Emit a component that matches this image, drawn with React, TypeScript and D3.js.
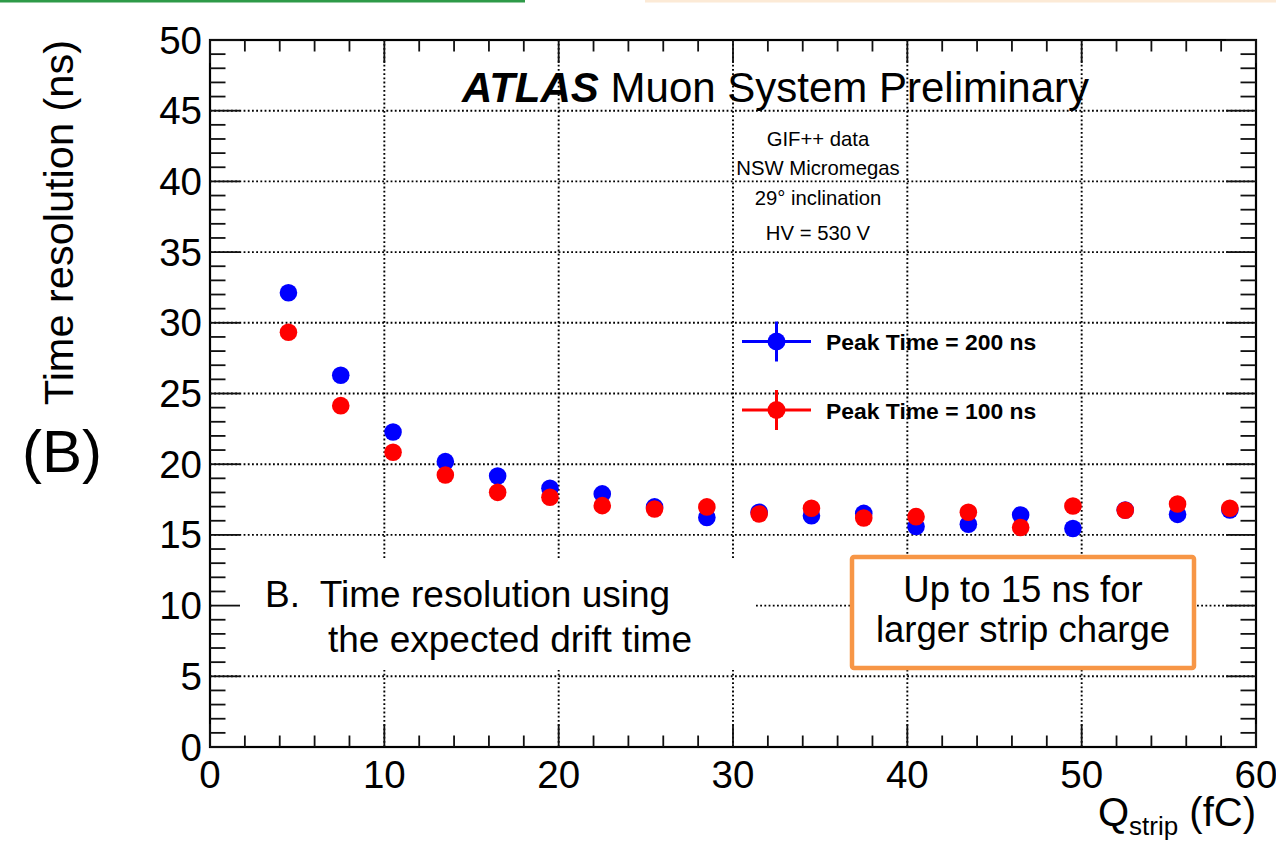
import React from "react";
import * as d3 from "d3";

const W = 1276;
const H = 841;

// Data: Q_strip bin centres (fC) and time resolution (ns)
const qStrip = [4.5, 7.5, 10.5, 13.5, 16.5, 19.5, 22.5, 25.5, 28.5, 31.5, 34.5, 37.5, 40.5, 43.5, 46.5, 49.5, 52.5, 55.5, 58.5];
const peak200 = [32.13, 26.29, 22.28, 20.18, 19.17, 18.3, 17.9, 16.98, 16.23, 16.6, 16.36, 16.52, 15.6, 15.75, 16.41, 15.45, 16.76, 16.45, 16.76];
const peak100 = [29.33, 24.14, 20.84, 19.24, 18.01, 17.66, 17.07, 16.83, 16.98, 16.48, 16.88, 16.19, 16.29, 16.6, 15.52, 17.04, 16.74, 17.18, 16.88];

const xMajor = [0, 10, 20, 30, 40, 50, 60];
const yMajor = [0, 5, 10, 15, 20, 25, 30, 35, 40, 45, 50];
const infoLines = ["GIF++ data", "NSW Micromegas", "29° inclination", "HV = 530 V"];
const legendItems = [
  { label: "Peak Time = 200 ns", color: "#0000FF" },
  { label: "Peak Time = 100 ns", color: "#FF0000" },
];

const FONT = "'Liberation Sans', Arial, Helvetica, sans-serif";

export default function App() {
  const x = d3.scaleLinear().domain([0, 60]).range([210, 1256]);
  const y = d3.scaleLinear().domain([0, 50]).range([747, 40]);

  const xMinor = d3.range(0, 60.001, 2).filter((v) => Math.abs(v % 10) > 1e-6);
  const yMinor = d3.range(0, 50.001, 1).filter((v) => Math.abs(v % 5) > 1e-6);

  const [x0, x1] = x.range();
  const [y0, y1] = y.range();

  const gridStyle = { stroke: "#000", strokeWidth: 1.9, strokeDasharray: "1.8,2.4" };
  const tickStyle = { stroke: "#111", strokeWidth: 1.8 };

  const infoY = [146, 175, 205, 240];
  const legY = [341.5, 410];

  return (
    <svg
      width={W}
      height={H}
      viewBox={`0 0 ${W} ${H}`}
      style={{ position: "absolute", left: 0, top: 0, background: "#fff" }}
      fontFamily={FONT}
    >
      <rect x={0} y={0} width={W} height={H} fill="#fff" />
      {/* top decorative strips */}
      <rect x={0} y={0} width={525} height={2.5} fill="#2E9A48" />
      <rect x={645} y={0} width={631} height={2.5} fill="#FCEAD6" />

      {/* grid */}
      {xMajor.filter((v) => v > 0 && v < 60).map((v) => (
        <line key={"gx" + v} x1={x(v)} x2={x(v)} y1={y0} y2={y1} {...gridStyle} />
      ))}
      {yMajor.filter((v) => v > 0 && v < 50).map((v) => (
        <line key={"gy" + v} x1={x0} x2={x1} y1={y(v)} y2={y(v)} {...gridStyle} />
      ))}

      {/* white text box annotation */}
      <rect x={212} y={560} width={543} height={110} fill="#fff" />
      <text x={265} y={607} fontSize={37} fill="#000">{"B.\u00A0 Time resolution using"}</text>
      <text x={328} y={652} fontSize={37} fill="#000">the expected drift time</text>

      {/* orange box */}
      <rect x={852} y={557} width={342} height={111} fill="#fff" stroke="#F79646" strokeWidth={4.5} rx={2} />
      <text x={1023} y={601.5} fontSize={36.5} textAnchor="middle" fill="#000">Up to 15 ns for</text>
      <text x={1023} y={641.5} fontSize={36.5} textAnchor="middle" fill="#000">larger strip charge</text>

      {/* data points */}
      {qStrip.map((q, i) => (
        <circle key={"b" + i} cx={x(q)} cy={y(peak200[i])} r={8.8} fill="#0000FF" />
      ))}
      {qStrip.map((q, i) => (
        <circle key={"r" + i} cx={x(q)} cy={y(peak100[i])} r={8.8} fill="#FF0000" />
      ))}

      {/* frame */}
      <rect x={x0} y={y1} width={x1 - x0} height={y0 - y1} fill="none" stroke="#000" strokeWidth={2.2} />

      {/* x ticks bottom and top */}
      {xMajor.map((v) => (
        <g key={"xM" + v}>
          <line x1={x(v)} x2={x(v)} y1={y0} y2={y0 - 23} {...tickStyle} />
          <line x1={x(v)} x2={x(v)} y1={y1} y2={y1 + 23} {...tickStyle} />
        </g>
      ))}
      {xMinor.map((v) => (
        <g key={"xm" + v}>
          <line x1={x(v)} x2={x(v)} y1={y0} y2={y0 - 11.5} {...tickStyle} />
          <line x1={x(v)} x2={x(v)} y1={y1} y2={y1 + 11.5} {...tickStyle} />
        </g>
      ))}
      {/* y ticks left and right */}
      {yMajor.map((v) => (
        <g key={"yM" + v}>
          <line x1={x0} x2={x0 + 30} y1={y(v)} y2={y(v)} {...tickStyle} />
          <line x1={x1} x2={x1 - 30} y1={y(v)} y2={y(v)} {...tickStyle} />
        </g>
      ))}
      {yMinor.map((v) => (
        <g key={"ym" + v}>
          <line x1={x0} x2={x0 + 15.5} y1={y(v)} y2={y(v)} {...tickStyle} />
          <line x1={x1} x2={x1 - 15.5} y1={y(v)} y2={y(v)} {...tickStyle} />
        </g>
      ))}

      {/* tick labels */}
      {xMajor.map((v) => (
        <text key={"xl" + v} x={x(v)} y={788} fontSize={38.5} textAnchor="middle" fill="#000">{v}</text>
      ))}
      {yMajor.map((v) => (
        <text key={"yl" + v} x={202} y={y(v) + 13.5} fontSize={38.5} textAnchor="end" fill="#000">{v}</text>
      ))}

      {/* axis titles */}
      <text transform={`translate(73, ${y1}) rotate(-90)`} fontSize={41.5} textAnchor="end" fill="#000">Time resolution (ns)</text>
      <text x={62} y={472} fontSize={60} textAnchor="middle" fill="#000">(B)</text>
      <text x={1256} y={826} fontSize={40} textAnchor="end" fill="#000">
        <tspan>Q</tspan>
        <tspan fontSize={26} dy={9}>strip</tspan>
        <tspan dy={-9}>{"\u00A0(fC)"}</tspan>
      </text>

      {/* title */}
      <text x={462} y={102} fontSize={42} fill="#000">
        <tspan fontWeight="bold" fontStyle="italic">ATLAS</tspan>
        <tspan>{"\u00A0Muon System Preliminary"}</tspan>
      </text>

      {/* info text */}
      {infoLines.map((t, i) => (
        <text key={"info" + i} x={818} y={infoY[i]} fontSize={20.3} textAnchor="middle" fill="#000">{t}</text>
      ))}

      {/* legend */}
      {legendItems.map((it, i) => (
        <g key={"leg" + i}>
          <line x1={742} x2={811} y1={legY[i]} y2={legY[i]} stroke={it.color} strokeWidth={3} />
          <line x1={776.5} x2={776.5} y1={legY[i] - 20} y2={legY[i] + 20} stroke={it.color} strokeWidth={3} />
          <circle cx={776.5} cy={legY[i]} r={9} fill={it.color} />
          <text x={826} y={legY[i] + 8.5} fontSize={22.9} fontWeight="bold" fill="#000">{it.label}</text>
        </g>
      ))}
    </svg>
  );
}
